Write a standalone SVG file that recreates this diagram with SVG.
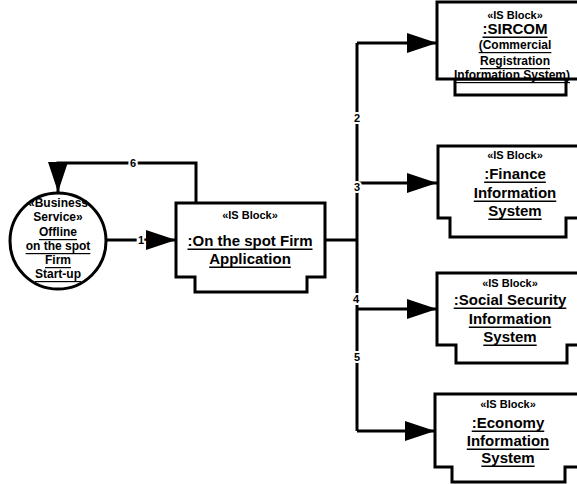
<svg xmlns="http://www.w3.org/2000/svg" width="577" height="484" viewBox="0 0 577 484">
<style>
.shape{fill:#fff;stroke:#000;stroke-width:3;stroke-linejoin:miter}
.conn{fill:none;stroke:#000;stroke-width:3}
text{font-family:"Liberation Sans",Arial,sans-serif;font-weight:bold;fill:#000;text-anchor:middle;dominant-baseline:central}
.st{font-size:11px}
.nm{font-size:15px;text-decoration:underline}
.sm{font-size:12px;text-decoration:underline}
.ct{font-size:12px}
.lbl{font-size:11px;stroke:#fff;stroke-width:4;paint-order:stroke}
</style>
<defs>
<marker id="arr" markerUnits="userSpaceOnUse" markerWidth="30" markerHeight="20" refX="30" refY="10" orient="auto">
<path d="M0,0 L30,10 L0,20 z" fill="#000"/>
</marker>
</defs>
<g id="connectors">
<path class="conn" d="M196,203 V163 H58 V192" marker-end="url(#arr)"/>
<path class="conn" d="M106,240 H176" marker-end="url(#arr)"/>
<path class="conn" d="M325,240 H357"/>
<path class="conn" d="M357,43 V431"/>
<path class="conn" d="M357,43 H437" marker-end="url(#arr)"/>
<path class="conn" d="M357,183 H437" marker-end="url(#arr)"/>
<path class="conn" d="M357,309 H437" marker-end="url(#arr)"/>
<path class="conn" d="M357,431 H435" marker-end="url(#arr)"/>
<text class="lbl" x="133" y="163">6</text>
<text class="lbl" x="141" y="240">1</text>
<text class="lbl" x="357" y="118">2</text>
<text class="lbl" x="357" y="187">3</text>
<text class="lbl" x="356" y="299">4</text>
<text class="lbl" x="357" y="357">5</text>
</g>
<g id="business-service">
<circle class="shape" cx="58" cy="241" r="48"/>
<text class="ct" x="58" y="203">«Business</text>
<text class="ct" x="58" y="217">Service»</text>
<text class="ct" x="58" y="232" text-decoration="underline">Offline</text>
<text class="ct" x="58" y="246" text-decoration="underline">on the spot</text>
<text class="ct" x="58" y="260" text-decoration="underline">Firm</text>
<text class="ct" x="58" y="274" text-decoration="underline">Start-up</text>
</g>
<g id="firm-application">
<path class="shape" d="M176,203 H325 V277 H307 V292 H195 V277 H176 Z"/>
<text class="st" x="250" y="215">«IS Block»</text>
<text class="nm" x="250" y="240">:On the spot Firm</text>
<text class="nm" x="250" y="258">Application</text>
</g>
<g id="sircom">
<rect class="shape" x="455" y="79" width="111" height="16"/>
<rect class="shape" x="437" y="2" width="142" height="77"/>
<text class="st" x="515" y="15">«IS Block»</text>
<text class="nm" x="515" y="28">:SIRCOM</text>
<text class="sm" x="515" y="45">(Commercial</text>
<text class="sm" x="515" y="61">Registration</text>
<text class="sm" x="512" y="75">Information System)</text>
</g>
<g id="finance">
<path class="shape" d="M438,146 H579 V218 H566 V237 H450 V218 H438 Z"/>
<text class="st" x="515" y="155">«IS Block»</text>
<text class="nm" x="515" y="173">:Finance</text>
<text class="nm" x="515" y="192">Information</text>
<text class="nm" x="515" y="210">System</text>
</g>
<g id="social-security">
<path class="shape" d="M437,273 H579 V345 H567 V363 H456 V345 H437 Z"/>
<text class="st" x="510" y="283">«IS Block»</text>
<text class="nm" x="510" y="299">:Social Security</text>
<text class="nm" x="510" y="318">Information</text>
<text class="nm" x="510" y="336">System</text>
</g>
<g id="economy">
<path class="shape" d="M435,394 H579 V467 H565 V482 H452 V467 H435 Z"/>
<text class="st" x="508" y="404">«IS Block»</text>
<text class="nm" x="508" y="422">:Economy</text>
<text class="nm" x="508" y="440">Information</text>
<text class="nm" x="508" y="457">System</text>
</g>
</svg>
